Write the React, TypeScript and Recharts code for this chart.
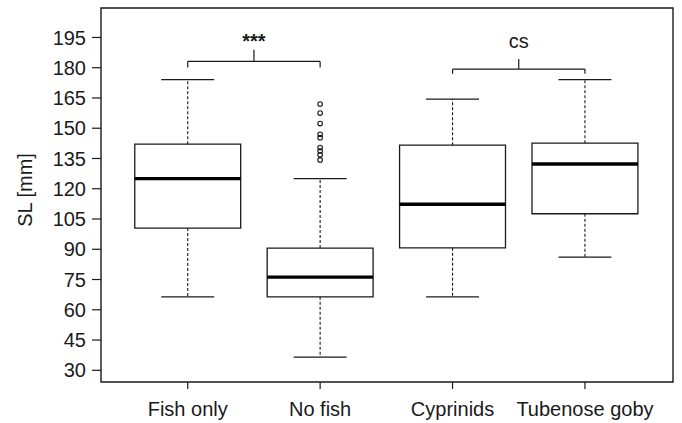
import { ComposedChart, XAxis, YAxis, Scatter, ReferenceArea, ReferenceLine } from "recharts";

// boxplot stats (SL in mm)
const groups = ["Fish only", "No fish", "Cyprinids", "Tubenose goby"];
const whiskerLow = [66.4, 36.5, 66.4, 86.1];
const q1 = [100.5, 66.4, 90.7, 107.6];
const median = [125, 76.2, 112.3, 132.3];
const q3 = [142.1, 90.6, 141.6, 142.6];
const whiskerHigh = [174.1, 125, 164.4, 174.1];

// outliers only in "No fish" (group 2)
const outlierGroup = 2;
const outliers = [162, 157.5, 152.3, 147, 145.3, 140.4, 138.7, 136.8, 134.3];

// significance brackets
const bracketFrom = [1, 3];
const bracketTo = [2, 4];
const bracketY = [183.1, 179.3];
const bracketTip = [180.1, 177];
const bracketTop = [188.9, 184.3];
const bracketLabelY = [189.9, 189.7];
const bracketLabel = ["***", "cs"];

const yTicks = [30, 45, 60, 75, 90, 105, 120, 135, 150, 165, 180, 195];
const xDomain: [number, number] = [0.345, 4.665];
const yDomain: [number, number] = [24.2, 209.6];

const ink = "#1a1a1a";
const font = "'Liberation Sans', Arial, sans-serif";
const BOX_HALF = 0.4;
const STAPLE_HALF = 0.2;

export default function App() {
  const positions = groups.map((_, i) => i + 1);
  const outlierData = outliers.map(v => ({ pos: outlierGroup, v }));

  const boxParts = positions.flatMap((p, i) => [
    <ReferenceLine key={`wh${i}`} segment={[{ x: p, y: q3[i] }, { x: p, y: whiskerHigh[i] }]} stroke={ink} strokeWidth={1.1} strokeDasharray="3 2" />,
    <ReferenceLine key={`wl${i}`} segment={[{ x: p, y: q1[i] }, { x: p, y: whiskerLow[i] }]} stroke={ink} strokeWidth={1.1} strokeDasharray="3 2" />,
    <ReferenceLine key={`sh${i}`} segment={[{ x: p - STAPLE_HALF, y: whiskerHigh[i] }, { x: p + STAPLE_HALF, y: whiskerHigh[i] }]} stroke={ink} strokeWidth={1.2} />,
    <ReferenceLine key={`sl${i}`} segment={[{ x: p - STAPLE_HALF, y: whiskerLow[i] }, { x: p + STAPLE_HALF, y: whiskerLow[i] }]} stroke={ink} strokeWidth={1.2} />,
    <ReferenceArea key={`bx${i}`} x1={p - BOX_HALF} x2={p + BOX_HALF} y1={q1[i]} y2={q3[i]} fill="none" stroke={ink} strokeWidth={1.3} />,
    <ReferenceLine key={`md${i}`} segment={[{ x: p - BOX_HALF, y: median[i] }, { x: p + BOX_HALF, y: median[i] }]} stroke="#000" strokeWidth={3.4} />,
  ]);

  const brackets = bracketFrom.flatMap((a, i) => {
    const b = bracketTo[i];
    const mid = (a + b) / 2;
    return [
      <ReferenceLine key={`bh${i}`} segment={[{ x: a, y: bracketY[i] }, { x: b, y: bracketY[i] }]} stroke={ink} strokeWidth={1.2} />,
      <ReferenceLine key={`ba${i}`} segment={[{ x: a, y: bracketY[i] }, { x: a, y: bracketTip[i] }]} stroke={ink} strokeWidth={1.2} />,
      <ReferenceLine key={`bb${i}`} segment={[{ x: b, y: bracketY[i] }, { x: b, y: bracketTip[i] }]} stroke={ink} strokeWidth={1.2} />,
      <ReferenceLine key={`bm${i}`} segment={[{ x: mid, y: bracketY[i] }, { x: mid, y: bracketTop[i] }]} stroke={ink} strokeWidth={1.2} />,
      <ReferenceLine
        key={`bl${i}`}
        segment={[{ x: a, y: bracketLabelY[i] }, { x: b, y: bracketLabelY[i] }]}
        stroke="none"
        label={{
          value: bracketLabel[i],
          position: "top",
          offset: 0,
          fill: ink,
          fontSize: 20,
          fontFamily: font,
          fontWeight: bracketLabel[i] === "***" ? 700 : 400,
        }}
      />,
    ];
  });

  return (
    <div style={{ position: "absolute", left: 0, top: 0, width: 682, height: 423, background: "#fff" }}>
      <ComposedChart width={682} height={423} margin={{ top: 8, right: 9, bottom: 0, left: 0 }}>
        <XAxis
          type="number"
          dataKey="pos"
          domain={xDomain}
          ticks={positions}
          interval={0}
          allowDataOverflow
          tickFormatter={(v: number) => groups[v - 1]}
          height={41}
          tickSize={7}
          tickMargin={13}
          axisLine={false}
          tickLine={{ stroke: ink, strokeWidth: 1.2 }}
          tick={{ fontSize: 20, fill: ink, fontFamily: font }}
        />
        <YAxis
          type="number"
          domain={yDomain}
          ticks={yTicks}
          interval={0}
          allowDataOverflow
          width={101}
          tickSize={9}
          tickMargin={6}
          axisLine={false}
          tickLine={{ stroke: ink, strokeWidth: 1.2 }}
          tick={{ fontSize: 20, fill: ink, fontFamily: font }}
          label={{ value: "SL [mm]", angle: -90, position: "center", dx: -25.5, dy: -5, fill: ink, fontSize: 20, fontFamily: font }}
        />
        <ReferenceArea x1={xDomain[0]} x2={xDomain[1]} y1={yDomain[0]} y2={yDomain[1]} fill="none" stroke={ink} strokeWidth={1.4} />
        {boxParts}
        {brackets}
        <Scatter
          data={outlierData}
          dataKey="v"
          isAnimationActive={false}
          shape={(p: any) => <circle cx={p.cx} cy={p.cy} r={2.3} fill="none" stroke={ink} strokeWidth={1.1} />}
        />
      </ComposedChart>
    </div>
  );
}
